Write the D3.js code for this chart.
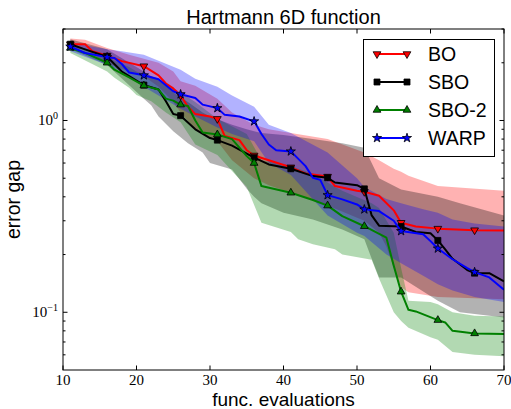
<!DOCTYPE html>
<meta charset="utf-8">
<style>

body {
  margin: 0;
  background: #fff;
}

text {
  font-family: "Liberation Sans", Arial, Helvetica, sans-serif;
}

.tick-label {
  font-family: "Liberation Serif", "DejaVu Serif", serif;
  font-size: 15px;
}

.line {
  fill: none;
  stroke-width: 2px;
  stroke-linejoin: round;
}

</style>
<body>
<script src="https://d3js.org/d3.v7.min.js"></script>
<script>

// mean curves
var boX  = [11,13,14,16,18,21,23,24,25,26,27,28,30,31,32,34,35,36,38,41,43,46,47,50,51,53,55,56,58,61,66,70];
var boY  = [2.5,2.5,2.3,2.18,2.04,1.92,1.72,1.56,1.47,1.35,1.18,1.08,1.05,1.02,0.83,0.79,0.70,0.657,0.62,0.57,0.53,0.51,0.455,0.43,0.425,0.405,0.34,0.293,0.28,0.273,0.268,0.267];

var sboX = [11,13,16,18,21,23,24,25,26,28,30,31,33,36,38,41,44,46,47,50,51,52,53,56,58,60,61,62,63,65,66,68,70];
var sboY = [2.5,2.35,2.15,1.8,1.53,1.45,1.26,1.08,1.06,0.9,0.81,0.79,0.74,0.64,0.59,0.56,0.513,0.503,0.475,0.46,0.44,0.32,0.283,0.28,0.262,0.258,0.237,0.213,0.19,0.166,0.16,0.16,0.145];

var sbo2X = [11,13,16,17,19,21,23,24,25,26,27,28,29,31,33,35,36,37,41,44,46,48,51,54,55,56,57,58,61,62,63,66,70];
var sbo2Y = [2.39,2.25,2.0,1.84,1.68,1.52,1.45,1.3,1.27,1.21,1.19,1.0,0.865,0.845,0.8,0.652,0.60,0.455,0.42,0.385,0.36,0.317,0.281,0.245,0.175,0.128,0.103,0.101,0.091,0.0885,0.08,0.0776,0.077];

var warpX = [11,13,16,17,18,19,21,23,25,26,28,29,31,32,34,36,37,38,39,41,43,44,45,46,48,50,51,53,55,56,59,60,61,63,65,66,68,70];
var warpY = [2.43,2.25,2.14,2.12,1.97,1.78,1.72,1.64,1.42,1.37,1.31,1.21,1.16,1.07,1.05,0.99,0.85,0.75,0.70,0.69,0.578,0.503,0.49,0.408,0.388,0.365,0.344,0.337,0.30,0.265,0.255,0.235,0.215,0.189,0.17,0.162,0.152,0.131];

// shaded bands (lower / upper)
var boBandX = [11,13,16,19,21,23,25,26,28,31,33,36,38,41,46,51,53,54,55,56,57,61,70];
var boLo    = [2.35,2.35,1.98,1.8,1.7,1.5,1.25,1.1,0.9,0.78,0.62,0.5,0.46,0.42,0.36,0.3,0.26,0.22,0.17,0.135,0.127,0.12,0.117];
var boHi    = [2.68,2.64,2.39,2.2,2.1,2.0,1.8,1.6,1.52,1.3,1.1,0.95,0.9,0.86,0.8,0.68,0.62,0.59,0.56,0.54,0.515,0.455,0.43];

var sboBandX = [11,16,21,22,23,25,27,29,30,33,35,36,37,40,44,48,51,52,53,56,61,64,70];
var sboLo    = [2.35,1.95,1.3,1.2,1.05,0.88,0.76,0.68,0.6,0.556,0.44,0.4,0.37,0.33,0.305,0.27,0.24,0.19,0.152,0.152,0.115,0.1,0.094];
var sboHi    = [2.65,2.35,1.8,1.7,1.65,1.4,1.25,1.1,1.05,0.95,0.9,0.88,0.86,0.84,0.8,0.76,0.72,0.6,0.5,0.437,0.4,0.37,0.32];

var sbo2BandX = [11,16,17,19,20,22,24,26,28,31,35,37,41,42,44,47,48,52,53,55,56,57,60,61,63,66,70];
var sbo2Lo    = [2.25,1.8,1.67,1.48,1.36,1.26,1.1,0.98,0.75,0.66,0.45,0.293,0.262,0.24,0.226,0.213,0.2,0.188,0.15,0.1,0.09,0.083,0.074,0.072,0.062,0.06,0.059];
var sbo2Hi    = [2.5,2.2,2.05,1.9,1.8,1.7,1.55,1.4,1.25,1.02,0.85,0.62,0.58,0.56,0.53,0.45,0.43,0.37,0.35,0.26,0.17,0.115,0.113,0.11,0.1,0.096,0.095];

var warpBandX = [11,16,18,21,26,28,31,33,36,38,41,46,50,51,54,56,59,61,63,66,70];
var warpLo    = [2.3,1.95,1.8,1.5,1.15,1.05,0.92,0.85,0.78,0.6,0.52,0.32,0.26,0.25,0.2,0.18,0.155,0.14,0.13,0.12,0.113];
var warpHi    = [2.55,2.35,2.3,2.2,1.84,1.65,1.5,1.35,1.18,0.95,0.86,0.68,0.5,0.45,0.39,0.37,0.344,0.33,0.305,0.29,0.28];

var xTicks = [10,20,30,40,50,60,70];
var yMajor = [{v: 1, exp: "0"}, {v: 0.1, exp: "\u22121"}];
var yMinor = [0.06,0.07,0.08,0.09,0.2,0.3,0.4,0.5,0.6,0.7,0.8,0.9,2,3];

var width = 511, height = 409;
var margin = {top: 29, right: 504, bottom: 370, left: 63};

var xScale = d3.scaleLinear().domain([10, 70]).range([margin.left, margin.right]);
var yScale = d3.scaleLog().domain([0.05, 3]).range([margin.bottom, margin.top]);

var series = [
  {name: "BO",    color: "#ff0000", xs: boX,   ys: boY,   bx: boBandX,   lo: boLo,   hi: boHi,   sym: "down"},
  {name: "SBO",   color: "#000000", xs: sboX,  ys: sboY,  bx: sboBandX,  lo: sboLo,  hi: sboHi,  sym: "square"},
  {name: "SBO-2", color: "#008000", xs: sbo2X, ys: sbo2Y, bx: sbo2BandX, lo: sbo2Lo, hi: sbo2Hi, sym: "up"},
  {name: "WARP",  color: "#0000ff", xs: warpX, ys: warpY, bx: warpBandX, lo: warpLo, hi: warpHi, sym: "star"}
];

function symbolPath(s) {
  if (s == "square") return d3.symbol(d3.symbolSquare, 36)();
  if (s == "star") return d3.symbol(d3.symbolStar, 26)();
  return d3.symbol(d3.symbolTriangle, 26)();
}

var svg = d3.select("body").append("svg")
    .attr("width", width)
    .attr("height", height);

svg.append("clipPath")
    .attr("id", "clip")
  .append("rect")
    .attr("x", margin.left).attr("y", margin.top)
    .attr("width", margin.right - margin.left).attr("height", margin.bottom - margin.top);

var plot = svg.append("g").attr("clip-path", "url(#clip)");

var area = d3.area()
    .x(d => xScale(d[0]))
    .y0(d => yScale(d[1]))
    .y1(d => yScale(d[2]));

var line = d3.line()
    .x(d => xScale(d[0]))
    .y(d => yScale(d[1]));

series.forEach(function(s) {
  plot.append("path")
      .attr("d", area(s.bx.map((v, i) => [v, s.lo[i], s.hi[i]])))
      .attr("fill", s.color)
      .attr("fill-opacity", 0.3)
      .attr("stroke", "none");
});

series.forEach(function(s) {
  var pts = s.xs.map((v, i) => [v, s.ys[i]]);
  plot.append("path")
      .attr("class", "line")
      .attr("d", line(pts))
      .attr("stroke", s.color);

  plot.selectAll(null)
      .data(pts.filter(d => (d[0] - 11) % 5 == 0 && d[0] <= 66))
    .enter().append("path")
      .attr("d", symbolPath(s.sym))
      .attr("transform", d => `translate(${xScale(d[0])},${yScale(d[1])})` + (s.sym == "down" ? " rotate(180)" : ""))
      .attr("fill", s.color)
      .attr("stroke", "#000")
      .attr("stroke-width", 0.8);
});

// frame and ticks
var axes = svg.append("g");

axes.append("rect")
    .attr("x", margin.left).attr("y", margin.top)
    .attr("width", margin.right - margin.left).attr("height", margin.bottom - margin.top)
    .attr("fill", "none")
    .attr("stroke", "#000")
    .attr("stroke-width", 1);

xTicks.forEach(function(t) {
  var px = xScale(t);
  axes.append("line").attr("x1", px).attr("x2", px).attr("y1", margin.bottom).attr("y2", margin.bottom - 4.5).attr("stroke", "#000");
  axes.append("line").attr("x1", px).attr("x2", px).attr("y1", margin.top).attr("y2", margin.top + 4.5).attr("stroke", "#000");
  axes.append("text")
      .attr("class", "tick-label")
      .attr("x", px)
      .attr("y", 385)
      .attr("text-anchor", "middle")
      .text(t);
});

yMajor.forEach(function(t) {
  var py = yScale(t.v);
  axes.append("line").attr("x1", margin.left).attr("x2", margin.left + 4.5).attr("y1", py).attr("y2", py).attr("stroke", "#000");
  axes.append("line").attr("x1", margin.right).attr("x2", margin.right - 4.5).attr("y1", py).attr("y2", py).attr("stroke", "#000");
  var lab = axes.append("text")
      .attr("class", "tick-label")
      .attr("x", 58)
      .attr("y", py + 4.5)
      .attr("text-anchor", "end")
      .text("10");
  lab.append("tspan")
      .attr("dy", -6)
      .attr("font-size", "10px")
      .text(t.exp);
});

yMinor.forEach(function(t) {
  var py = yScale(t);
  axes.append("line").attr("x1", margin.left).attr("x2", margin.left + 2.5).attr("y1", py).attr("y2", py).attr("stroke", "#000");
  axes.append("line").attr("x1", margin.right).attr("x2", margin.right - 2.5).attr("y1", py).attr("y2", py).attr("stroke", "#000");
});

svg.append("text")
    .attr("x", (margin.left + margin.right) / 2)
    .attr("y", 24)
    .attr("text-anchor", "middle")
    .style("font-size", "20px")
    .text("Hartmann 6D function");

svg.append("text")
    .attr("x", (margin.left + margin.right) / 2)
    .attr("y", 406)
    .attr("text-anchor", "middle")
    .style("font-size", "19px")
    .text("func. evaluations");

svg.append("text")
    .attr("transform", `translate(19.5, ${(margin.top + margin.bottom) / 2}) rotate(-90)`)
    .attr("text-anchor", "middle")
    .style("font-size", "19.5px")
    .text("error gap");

// legend
var legend = svg.append("g");

legend.append("rect")
    .attr("x", 363.5).attr("y", 39.5)
    .attr("width", 131).attr("height", 117)
    .attr("fill", "#fff")
    .attr("stroke", "#000")
    .attr("stroke-width", 1);

series.forEach(function(s, i) {
  var ly = 54 + i * 28;
  legend.append("line")
      .attr("x1", 377).attr("x2", 407)
      .attr("y1", ly).attr("y2", ly)
      .attr("stroke", s.color)
      .attr("stroke-width", 2);
  [377, 407].forEach(function(lx) {
    legend.append("path")
        .attr("d", symbolPath(s.sym))
        .attr("transform", `translate(${lx},${ly})` + (s.sym == "down" ? " rotate(180)" : ""))
        .attr("fill", s.color)
        .attr("stroke", "#000")
        .attr("stroke-width", 0.8);
  });
  legend.append("text")
      .attr("x", 428)
      .attr("y", ly + 7)
      .style("font-size", "19.5px")
      .text(s.name);
});

</script>
